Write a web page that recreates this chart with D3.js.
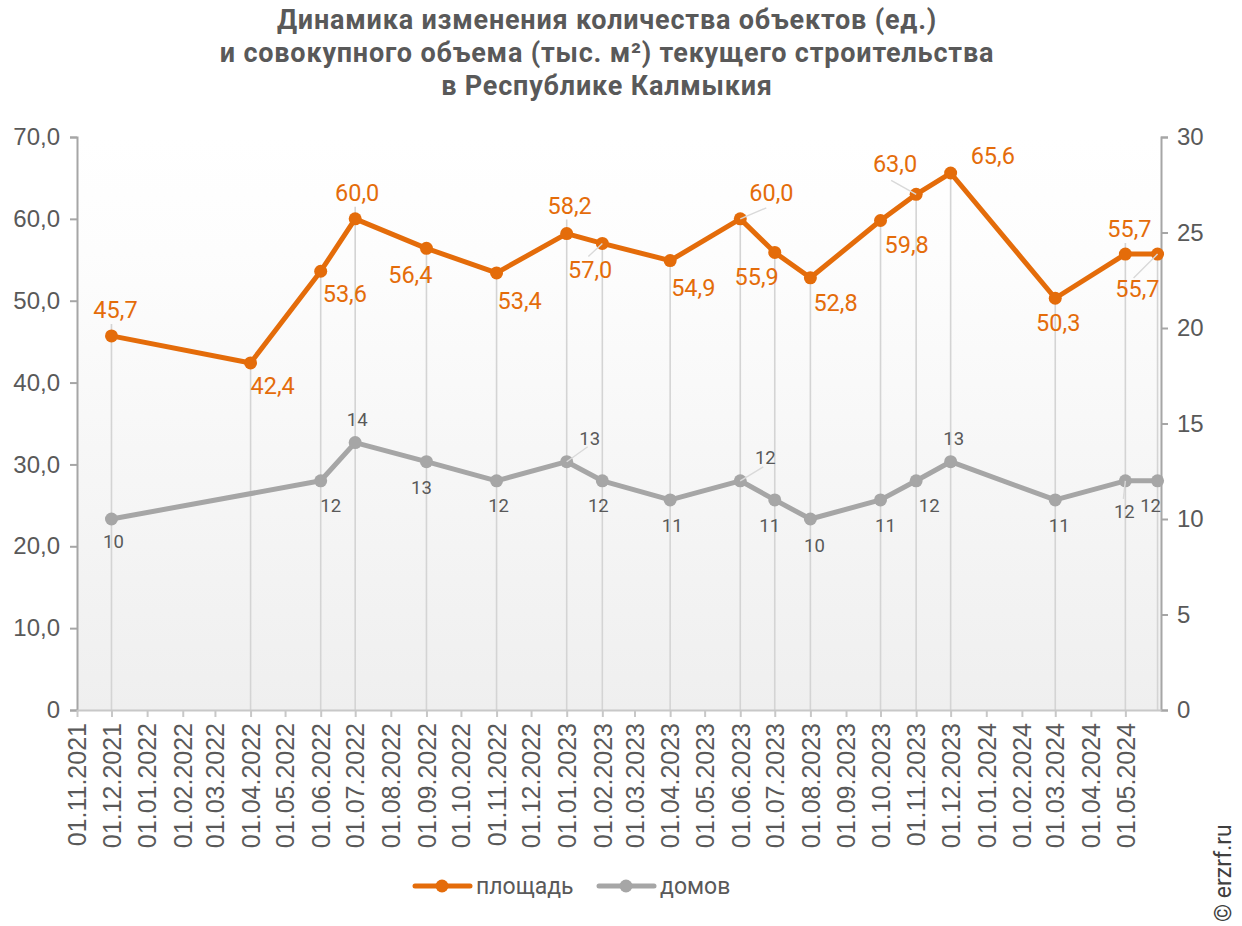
<!DOCTYPE html>
<html lang="ru">
<head>
<meta charset="UTF-8">
<title>Динамика текущего строительства — Республика Калмыкия</title>
<script src="https://d3js.org/d3.v7.min.js"></script>
<style>
  body { margin: 0; background: #fff; }
  svg { font-family: Roboto, "Noto Sans", sans-serif; display: block; }
  .title { font-size: 27px; font-weight: bold; fill: #595959; letter-spacing: 0.8px; }
  .axis text { font-size: 24px; fill: #595959; }
  .axis line, .axis path { stroke: #a6a6a6; stroke-width: 2px; }
  .xaxis line, .xaxis path { stroke: #c8c8c8; stroke-width: 2px; }
  .xaxis text { font-size: 25px; fill: #595959; }
  .drop { stroke: #d4d4d4; stroke-width: 1.6px; }
  .leader { stroke: #d9d9d9; stroke-width: 1.4px; }
  .lbl-area { font-size: 23.5px; fill: #e46c0a; }
  .lbl-houses { font-size: 18.5px; fill: #595959; }
  .legend text { font-size: 23px; fill: #595959; }
</style>
</head>
<body>
<div id="chart"></div>
<script>
// ---- data ----
const dates = ["2021-12-01","2022-04-01","2022-06-01","2022-07-01","2022-09-01","2022-11-01",
  "2023-01-01","2023-02-01","2023-04-01","2023-06-01","2023-07-01","2023-08-01",
  "2023-10-01","2023-11-01","2023-12-01","2024-03-01","2024-05-01","2024-05-29"];
const area = [45.7, 42.4, 53.6, 60.0, 56.4, 53.4, 58.2, 57.0, 54.9, 60.0, 55.9, 52.8,
  59.8, 63.0, 65.6, 50.3, 55.7, 55.7];
// no value for houses at 01.04.2022
const houses = [10, null, 12, 14, 13, 12, 13, 12, 11, 12, 11, 10, 11, 12, 13, 11, 12, 12];
const leftTicks = [0, 10, 20, 30, 40, 50, 60, 70];
const rightTicks = [0, 5, 10, 15, 20, 25, 30];
const seriesNames = ["площадь", "домов"];
const titleLines = ["Динамика изменения количества объектов (ед.)",
  "и совокупного объема (тыс. м²) текущего строительства",
  "в Республике Калмыкия"];

// label placement: [dx, dy, anchor, leader]
const areaLabelPos = [
  [4,-18,"middle"],[0,31,"start"],[2,31,"start"],[2,-18,"middle"],[6,35,"end"],[1,36,"start"],
  [3,-20,"middle"],[10,35,"end",[-14,13]],[1,35,"start"],[9,-18,"start",[26,-11]],[4,33,"end"],[3,33,"start"],
  [4,33,"start"],[1,-22,"end",[-25,-14]],[20,-9,"start"],[3,33,"middle"],[4,-17,"middle"],[2,43,"end",[-24,24]]
];
const housesLabelPos = [
  [2,29,"middle"],null,[10,31,"middle"],[2,-17,"middle"],[-5,32,"middle"],[2,31,"middle"],
  [23,-17,"middle",[21,-15]],[-4,31,"middle"],[2,32,"middle"],[25,-17,"middle",[23,-14]],[-5,32,"middle"],[4,33,"middle"],
  [5,32,"middle"],[13,31,"middle"],[3,-17,"middle"],[4,32,"middle"],[-1,37,"middle",[-2,18]],[-7,31,"middle"]
];

// ---- layout ----
const W = 1242, H = 926;
const L = 77, R = 1161, T = 137, B = 710;
const orange = "#e46c0a", grey = "#a6a6a6";

const parse = d3.timeParse("%Y-%m-%d");
const rows = dates.map((d, i) => ({ date: parse(d), area: area[i], houses: houses[i], i }));

const x = d3.scaleTime().domain([parse("2021-11-01"), parse("2024-06-01")]).range([L, R]);
const yL = d3.scaleLinear().domain([0, 70]).range([B, T]);
const yR = d3.scaleLinear().domain([0, 30]).range([B, T]);

const svg = d3.select("#chart").append("svg").attr("width", W).attr("height", H);

const defs = svg.append("defs");
const grad = defs.append("linearGradient").attr("id", "bg").attr("x1", 0).attr("y1", 0).attr("x2", 0).attr("y2", 1);
grad.append("stop").attr("offset", "0%").attr("stop-color", "#ffffff");
grad.append("stop").attr("offset", "20%").attr("stop-color", "#fdfdfd");
grad.append("stop").attr("offset", "100%").attr("stop-color", "#efefef");

svg.append("rect").attr("x", L).attr("y", T).attr("width", R - L).attr("height", B - T).attr("fill", "url(#bg)");

// title
svg.append("text").attr("class", "title").attr("text-anchor", "middle")
  .selectAll("tspan").data(titleLines).join("tspan")
  .attr("x", 607).attr("y", (d, i) => 29 + i * 33).text(d => d);

// drop lines
svg.append("g").selectAll("line").data(rows).join("line")
  .attr("class", "drop")
  .attr("x1", d => x(d.date)).attr("x2", d => x(d.date))
  .attr("y1", B)
  .attr("y2", d => {
    const p = areaLabelPos[d.i];
    const py = yL(d.area);
    return (p[1] < 0 && p[2] === "middle") ? py + p[1] + 6 : py;
  });

// axes
const fmt = d => d === 0 ? "0" : d3.format(".1f")(d).replace(".", ",");
svg.append("g").attr("class", "axis").attr("transform", `translate(${L},0)`)
  .call(d3.axisLeft(yL).tickValues(leftTicks).tickFormat(fmt).tickSize(7).tickSizeOuter(7).tickPadding(10));
svg.append("g").attr("class", "axis").attr("transform", `translate(${R},0)`)
  .call(d3.axisRight(yR).tickValues(rightTicks).tickFormat(d3.format("d")).tickSize(7).tickSizeOuter(7).tickPadding(9));

const monthTicks = d3.timeMonth.range(parse("2021-11-01"), parse("2024-05-02"));
const xAxis = svg.append("g").attr("class", "xaxis").attr("transform", `translate(0,${B})`)
  .call(d3.axisBottom(x).tickValues(monthTicks).tickFormat(d3.timeFormat("%d.%m.%Y")).tickSize(7).tickSizeOuter(0));
xAxis.selectAll("text")
  .attr("transform", "rotate(-90)")
  .attr("text-anchor", "end")
  .attr("x", -13).attr("y", 0).attr("dy", "0.35em");

// lines
const areaLine = d3.line().x(d => x(d.date)).y(d => yL(d.area));
const housesRows = rows.filter(d => d.houses != null);
const housesLine = d3.line().x(d => x(d.date)).y(d => yR(d.houses));

svg.append("path").datum(housesRows).attr("d", housesLine)
  .attr("fill", "none").attr("stroke", grey).attr("stroke-width", 5).attr("stroke-linejoin", "round");
svg.append("g").selectAll("circle").data(housesRows).join("circle")
  .attr("cx", d => x(d.date)).attr("cy", d => yR(d.houses)).attr("r", 6.5).attr("fill", grey);

svg.append("path").datum(rows).attr("d", areaLine)
  .attr("fill", "none").attr("stroke", orange).attr("stroke-width", 5).attr("stroke-linejoin", "round");
svg.append("g").selectAll("circle").data(rows).join("circle")
  .attr("cx", d => x(d.date)).attr("cy", d => yL(d.area)).attr("r", 6.5).attr("fill", orange);

// leader lines
function leaders(data, pos, ys) {
  svg.append("g").selectAll("line").data(data.filter(d => pos[d.i] && pos[d.i][3])).join("line")
    .attr("class", "leader")
    .attr("x1", d => x(d.date)).attr("y1", d => ys(d))
    .attr("x2", d => x(d.date) + pos[d.i][3][0]).attr("y2", d => ys(d) + pos[d.i][3][1]);
}
leaders(rows, areaLabelPos, d => yL(d.area));
leaders(housesRows, housesLabelPos, d => yR(d.houses));

// labels
svg.append("g").selectAll("text").data(rows).join("text")
  .attr("class", "lbl-area")
  .attr("x", d => x(d.date) + areaLabelPos[d.i][0])
  .attr("y", d => yL(d.area) + areaLabelPos[d.i][1])
  .attr("text-anchor", d => areaLabelPos[d.i][2])
  .text(d => d3.format(".1f")(d.area).replace(".", ","));

svg.append("g").selectAll("text").data(housesRows).join("text")
  .attr("class", "lbl-houses")
  .attr("x", d => x(d.date) + housesLabelPos[d.i][0])
  .attr("y", d => yR(d.houses) + housesLabelPos[d.i][1])
  .attr("text-anchor", d => housesLabelPos[d.i][2])
  .text(d => d.houses);

// legend
const legend = svg.append("g").attr("class", "legend");
const legendItems = [
  { name: seriesNames[0], color: orange, x0: 415 },
  { name: seriesNames[1], color: grey, x0: 599 }
];
legendItems.forEach(it => {
  legend.append("line").attr("x1", it.x0).attr("x2", it.x0 + 55).attr("y1", 886).attr("y2", 886)
    .attr("stroke", it.color).attr("stroke-width", 5).attr("stroke-linecap", "round");
  legend.append("circle").attr("cx", it.x0 + 27).attr("cy", 886).attr("r", 6.5).attr("fill", it.color);
  legend.append("text").attr("x", it.x0 + 61).attr("y", 894).text(it.name);
});

// watermark
svg.append("text").attr("transform", "translate(1231,922) rotate(-90)")
  .attr("font-size", 23).attr("fill", "#404040").text("© erzrf.ru");
</script>
</body>
</html>
